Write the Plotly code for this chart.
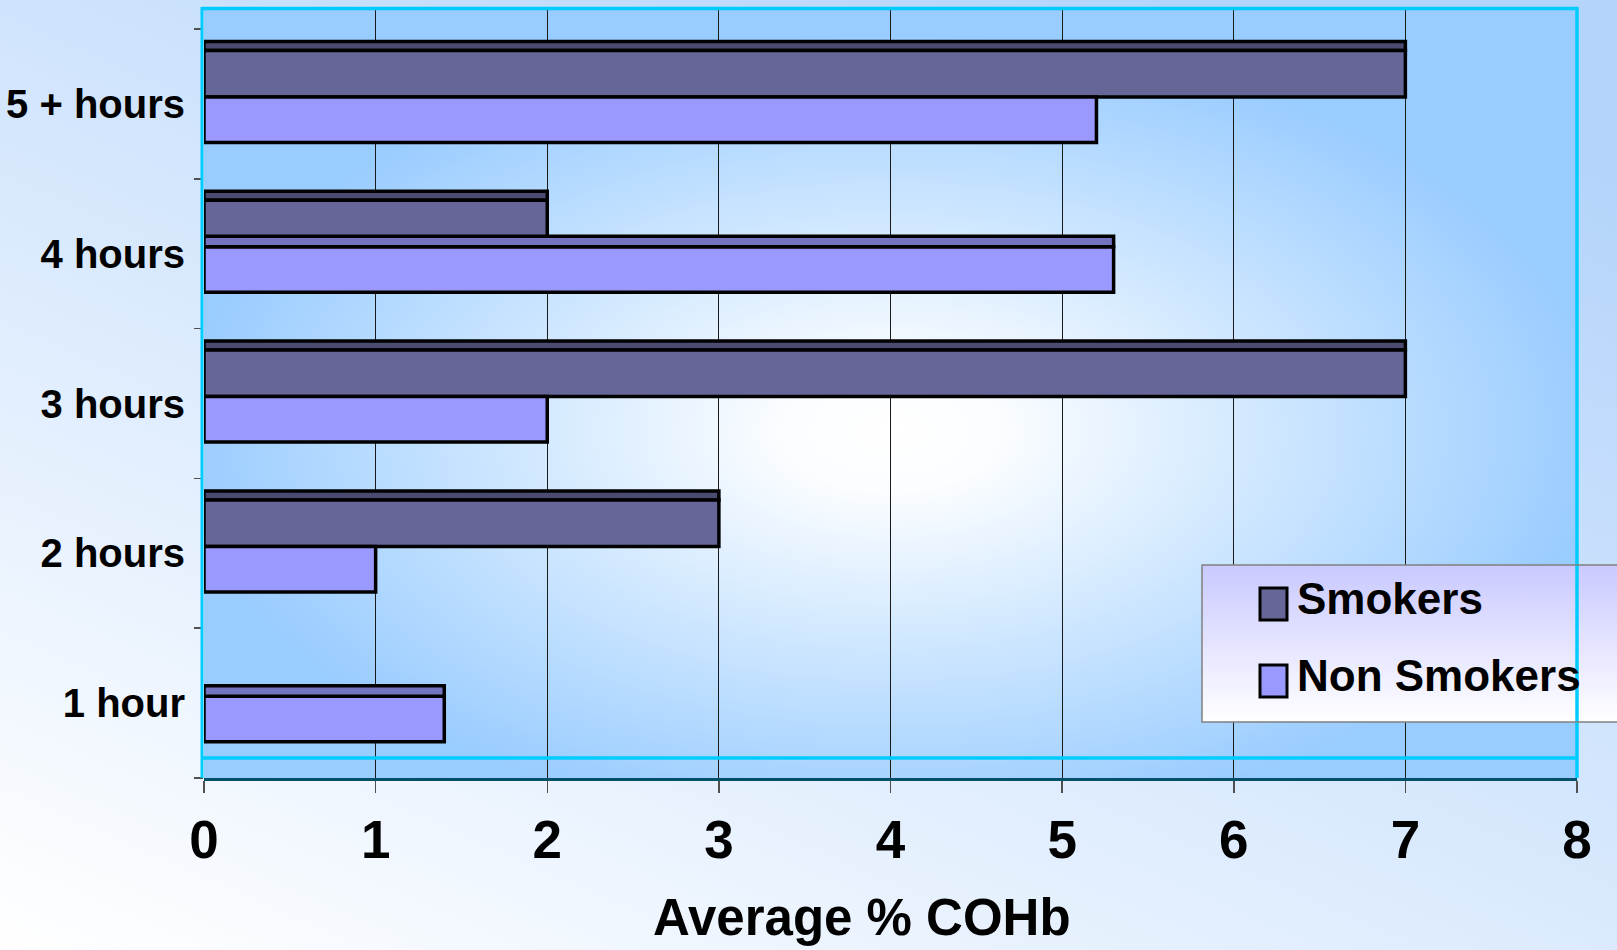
import base64
import plotly.graph_objects as go

# ---------------- data ----------------
categories = ["1 hour", "2 hours", "3 hours", "4 hours", "5 + hours"]
smokers = [0, 3, 7, 2, 7]
non_smokers = [1.4, 1, 2, 5.3, 5.2]
x_tick_values = [0, 1, 2, 3, 4, 5, 6, 7, 8]
series_names = ["Smokers", "Non Smokers"]
x_title = "Average % COHb"

# ---------------- styling ----------------
W, H = 1617, 950
L, R, T, B = 204, 1577, 8, 778          # plot area in page pixels
PX_PER_CAT = 149.8
Y_TOP = -0.5 + (B - T) / PX_PER_CAT

FONT = "Liberation Sans, Arial, sans-serif"
SMOKER_FRONT = "#666699"
SMOKER_TOP = "#4b4b72"
NON_FRONT = "#9999ff"
NON_TOP = "#7373c0"
EDGE_W = 3.5
CYAN = "#00ccff"


def band(d_top, d_bottom):
    """offset/width (category units) for a slab d_top..d_bottom px below band top"""
    top = 0.5 - d_top / PX_PER_CAT
    bottom = 0.5 - d_bottom / PX_PER_CAT
    return bottom, top - bottom


def edge(values):
    # no outline on empty (zero / missing) bars
    return dict(color="#000000", width=[EDGE_W if v else 0 for v in values])


def svg_uri(svg):
    return "data:image/svg+xml;base64," + base64.b64encode(svg.encode()).decode()


def py(p):  # page pixel row -> paper y
    return (B - p) / (B - T)


def px(p):  # page pixel column -> paper x
    return (p - L) / (R - L)


page_svg = (
    '<svg xmlns="http://www.w3.org/2000/svg" width="400" height="240" viewBox="0 0 400 240" '
    'preserveAspectRatio="none"><defs><linearGradient id="g" x1="0" y1="1" x2="0.75" y2="0">'
    '<stop offset="0" stop-color="#ffffff"/><stop offset="1" stop-color="#b4d4fb"/>'
    '</linearGradient></defs><rect width="400" height="240" fill="url(#g)"/></svg>'
)
wall_svg = (
    '<svg xmlns="http://www.w3.org/2000/svg" width="400" height="240" viewBox="0 0 400 240" '
    'preserveAspectRatio="none"><defs><radialGradient id="r" cx="0.5" cy="0.55" r="0.52">'
    '<stop offset="0" stop-color="#ffffff"/><stop offset="0.15" stop-color="#fbfdff"/>'
    '<stop offset="1" stop-color="#99ccff"/>'
    '</radialGradient></defs><rect width="400" height="240" fill="url(#r)"/></svg>'
)
legend_svg = (
    '<svg xmlns="http://www.w3.org/2000/svg" width="100" height="100" viewBox="0 0 100 100" '
    'preserveAspectRatio="none"><defs><linearGradient id="l" x1="0" y1="0" x2="0" y2="1">'
    '<stop offset="0" stop-color="#c9c9ff"/><stop offset="1" stop-color="#ffffff"/>'
    '</linearGradient></defs><rect width="100" height="100" fill="url(#l)"/></svg>'
)

fig = go.Figure()

s_top_off, s_top_w = band(12.5, 21.5)
s_front_off, s_front_w = band(21.5, 68)
n_front_off, n_front_w = band(68, 113.5)
n_top_off, n_top_w = band(57.5, 68)

# smokers: top face + front face
fig.add_trace(go.Bar(y=categories, x=smokers, orientation="h", offset=s_top_off, width=s_top_w,
                     marker=dict(color=SMOKER_TOP, line=edge(smokers)), showlegend=False,
                     hoverinfo="skip"))
fig.add_trace(go.Bar(y=categories, x=smokers, orientation="h", offset=s_front_off, width=s_front_w,
                     marker=dict(color=SMOKER_FRONT, line=edge(smokers)), name=series_names[0],
                     showlegend=False))
# non smokers: front face, and top face where it sticks out past the smokers bar
fig.add_trace(go.Bar(y=categories, x=non_smokers, orientation="h", offset=n_front_off, width=n_front_w,
                     marker=dict(color=NON_FRONT, line=edge(non_smokers)), name=series_names[1],
                     showlegend=False))
non_top_visible = [n if n > s else None for s, n in zip(smokers, non_smokers)]
fig.add_trace(go.Bar(y=categories, x=non_top_visible, orientation="h", offset=n_top_off, width=n_top_w,
                     marker=dict(color=NON_TOP, line=edge(non_top_visible)), showlegend=False,
                     hoverinfo="skip"))

images = [
    dict(source=svg_uri(page_svg), xref="paper", yref="paper", x=px(0), y=py(0),
         sizex=W / (R - L), sizey=H / (B - T), xanchor="left", yanchor="top",
         sizing="stretch", layer="below"),
    dict(source=svg_uri(wall_svg), xref="paper", yref="paper", x=0, y=1, sizex=1, sizey=1,
         xanchor="left", yanchor="top", sizing="stretch", layer="below"),
    dict(source=svg_uri(legend_svg), xref="paper", yref="paper", x=px(1202), y=py(565),
         sizex=px(1640) - px(1202), sizey=py(565) - py(722), xanchor="left", yanchor="top",
         sizing="stretch", layer="above"),
]

shapes = [
    # back-wall border (left, top, right) and floor edge
    dict(type="line", xref="paper", yref="paper", x0=px(202), x1=px(202), y0=py(778), y1=py(7),
         line=dict(color=CYAN, width=3), layer="above"),
    dict(type="line", xref="paper", yref="paper", x0=px(202), x1=px(1578), y0=py(8.5), y1=py(8.5),
         line=dict(color=CYAN, width=3.5), layer="above"),
    dict(type="line", xref="paper", yref="paper", x0=px(1577), x1=px(1577), y0=py(778), y1=py(7),
         line=dict(color=CYAN, width=3.5), layer="above"),
    dict(type="line", xref="paper", yref="paper", x0=px(202), x1=px(1577), y0=py(758), y1=py(758),
         line=dict(color=CYAN, width=3.5), layer="above"),
    # legend frame and keys
    dict(type="rect", xref="paper", yref="paper", x0=px(1202), x1=px(1700), y0=py(722), y1=py(565),
         line=dict(color="#808080", width=1.5), layer="above"),
    dict(type="rect", xref="paper", yref="paper", x0=px(1260), x1=px(1287), y0=py(620), y1=py(588),
         fillcolor=SMOKER_FRONT, line=dict(color="#000000", width=3), layer="above"),
    dict(type="rect", xref="paper", yref="paper", x0=px(1260), x1=px(1287), y0=py(697), y1=py(665),
         fillcolor=NON_FRONT, line=dict(color="#000000", width=3), layer="above"),
]

annotations = [
    dict(text=series_names[0], xref="paper", yref="paper", x=px(1295), y=py(598),
         xanchor="left", yanchor="middle", showarrow=False,
         font=dict(family=FONT, size=44, color="#000000", weight="bold")),
    dict(text=series_names[1], xref="paper", yref="paper", x=px(1295), y=py(675),
         xanchor="left", yanchor="middle", showarrow=False,
         font=dict(family=FONT, size=44, color="#000000", weight="bold")),
    dict(text=x_title, xref="paper", yref="paper", x=px(862), y=py(917),
         xanchor="center", yanchor="middle", showarrow=False,
         font=dict(family=FONT, size=51, color="#000000", weight="bold")),
]

fig.update_layout(
    width=W, height=H, autosize=False,
    margin=dict(l=L, r=W - R, t=T, b=H - B, pad=0),
    paper_bgcolor="#e2eefc", plot_bgcolor="rgba(0,0,0,0)",
    barmode="overlay", bargap=0,
    showlegend=False,
    images=images, shapes=shapes, annotations=annotations,
    xaxis=dict(range=[0, 8], tickvals=x_tick_values, ticktext=[str(v) for v in x_tick_values],
               showgrid=True, gridcolor="#1a1a1a", gridwidth=1, zeroline=False,
               showline=True, linecolor="#00506a", linewidth=2.5,
               ticks="outside", ticklen=12, tickwidth=1.5, tickcolor="#505050",
               tickfont=dict(family=FONT, size=53, color="#000000", weight="bold"),
               ticklabelstandoff=2, automargin=False, fixedrange=True),
    yaxis=dict(type="category", categoryorder="array", categoryarray=categories,
               range=[-0.5, Y_TOP], tickson="boundaries", showgrid=False, zeroline=False,
               showline=False, ticks="outside", ticklen=9, tickwidth=1.5, tickcolor="#505050",
               tickfont=dict(family=FONT, size=40, color="#000000", weight="bold"),
               ticklabelstandoff=18, ticklabelshift=0, automargin=False, fixedrange=True),
)

fig.write_html("out.html", include_plotlyjs=True, full_html=True,
               config=dict(displayModeBar=False, staticPlot=True),
               post_script="document.body.style.margin='0px';document.body.style.overflow='hidden';")
